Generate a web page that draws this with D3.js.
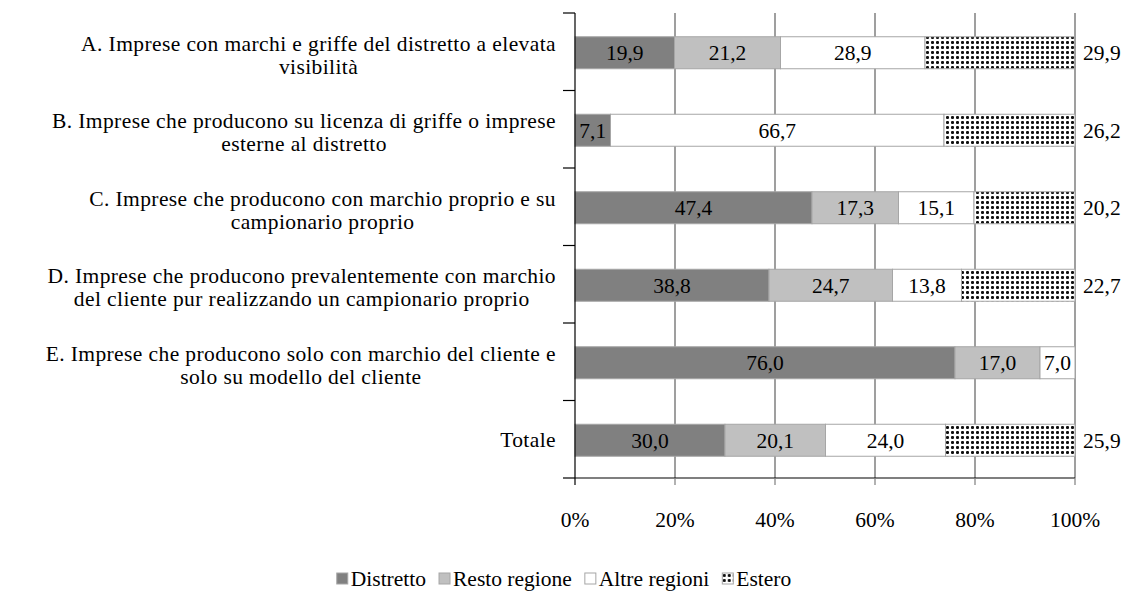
<!DOCTYPE html>
<html>
<head>
<meta charset="utf-8">
<script src="https://cdn.jsdelivr.net/npm/d3@7"></script>
<style>
  body { margin: 0; background: #fff; }
</style>
</head>
<body>
<div id="chart"></div>
<script>
const width = 1131;
const height = 592;

const categories = [
  ["A. Imprese con marchi e griffe del distretto a elevata", "visibilità"],
  ["B. Imprese che producono su licenza di griffe o imprese", "esterne al distretto"],
  ["C. Imprese che producono con marchio proprio e su", "campionario proprio"],
  ["D. Imprese che producono prevalentemente con marchio", "del cliente pur realizzando un campionario proprio"],
  ["E. Imprese che producono solo con marchio del cliente e", "solo su modello del cliente"],
  ["Totale"]
];
const series = ["Distretto", "Resto regione", "Altre regioni", "Estero"];
const distretto = [19.9, 7.1, 47.4, 38.8, 76.0, 30.0];
const restoRegione = [21.2, 0, 17.3, 24.7, 17.0, 20.1];
const altreRegioni = [28.9, 66.7, 15.1, 13.8, 7.0, 24.0];
const estero = [29.9, 26.2, 20.2, 22.7, 0, 25.9];
const xTicks = [0, 20, 40, 60, 80, 100];

const values = [distretto, restoRegione, altreRegioni, estero];
const fills = ["#808080", "#c0c0c0", "#ffffff", "url(#dots)"];
const fontSize = "21.5px";
const serif = '"Liberation Serif", "Times New Roman", Tinos, serif';

const plot = { left: 575, right: 1075, top: 13, bottom: 478 };

const svg = d3.select("#chart").append("svg")
  .attr("width", width)
  .attr("height", height);

// every text gets the serif face directly
const addText = sel => sel.append("text")
  .style("font-family", serif)
  .attr("font-size", fontSize)
  .attr("fill", "#000");

// dotted pattern for Estero
const pat = svg.append("defs").append("pattern")
  .attr("id", "dots")
  .attr("patternUnits", "userSpaceOnUse")
  .attr("width", 5).attr("height", 5);
pat.append("rect").attr("width", 5).attr("height", 5).attr("fill", "#fff");
pat.append("rect").attr("x", 1).attr("y", 1).attr("width", 3).attr("height", 3).attr("fill", "#555");
pat.append("rect").attr("x", 1).attr("y", 2).attr("width", 3).attr("height", 1).attr("fill", "#111");
pat.append("rect").attr("x", 2).attr("y", 1).attr("width", 1).attr("height", 3).attr("fill", "#111");

const x = d3.scaleLinear().domain([0, 100]).range([plot.left, plot.right]);

// gridlines
svg.append("g").selectAll("line")
  .data(xTicks.slice(1))
  .enter().append("line")
  .attr("x1", d => x(d)).attr("x2", d => x(d))
  .attr("y1", plot.top).attr("y2", plot.bottom)
  .attr("stroke", "#7f7f7f").attr("stroke-width", 1.5);

// stacked bars
const stacked = d3.range(categories.length).map(i => {
  let acc = 0;
  return values.map((vals, s) => {
    const seg = { i, s, x0: acc, x1: acc + vals[i], v: vals[i] };
    acc += vals[i];
    return seg;
  });
});

const segs = stacked.flat().filter(d => d.v > 0);
const bandStep = (plot.bottom - plot.top) / categories.length;
const barH = 32;
const barY = i => plot.top + bandStep * i + bandStep / 2 - barH / 2 + 1;

svg.append("g").selectAll("rect")
  .data(segs)
  .enter().append("rect")
  .attr("x", d => x(d.x0))
  .attr("y", d => barY(d.i))
  .attr("width", d => x(d.x1) - x(d.x0))
  .attr("height", barH)
  .attr("fill", d => fills[d.s])
  .attr("stroke", "#a6a6a6")
  .attr("stroke-width", 1);

// value labels
const valG = svg.append("g");
segs.forEach(d => {
  addText(valG)
    .attr("x", d.s === 3 ? x(100) + 8 : (x(d.x0) + x(d.x1)) / 2)
    .attr("y", barY(d.i) + barH / 2)
    .attr("dy", "0.35em")
    .attr("text-anchor", d.s === 3 ? "start" : "middle")
    .text(d.v.toFixed(1).replace(".", ","));
});

// left axis line with ticks
const yAxis = svg.append("g").attr("stroke", "#000");
yAxis.append("line")
  .attr("x1", plot.left).attr("x2", plot.left)
  .attr("y1", plot.top).attr("y2", plot.bottom)
  .attr("stroke-width", 1.2);
yAxis.selectAll("line.tick")
  .data(d3.range(categories.length + 1))
  .enter().append("line")
  .attr("class", "tick")
  .attr("x1", plot.left - 12).attr("x2", plot.left)
  .attr("y1", i => plot.top + bandStep * i).attr("y2", i => plot.top + bandStep * i)
  .attr("stroke-width", 1.2);

// bottom axis
svg.append("line")
  .attr("x1", plot.left).attr("x2", plot.right)
  .attr("y1", plot.bottom).attr("y2", plot.bottom)
  .attr("stroke", "#000").attr("stroke-width", 1.2);
svg.append("g").selectAll("line")
  .data(xTicks)
  .enter().append("line")
  .attr("x1", d => x(d)).attr("x2", d => x(d))
  .attr("y1", plot.bottom).attr("y2", plot.bottom + 7)
  .attr("stroke", d => d === 0 ? "#000" : "#7f7f7f").attr("stroke-width", 1.2);
const tickG = svg.append("g");
xTicks.forEach(d => {
  addText(tickG)
    .attr("x", x(d))
    .attr("y", 519)
    .attr("dy", "0.35em")
    .attr("text-anchor", "middle")
    .text(d + "%");
});

// category labels (centered block, right edge at labelRight)
const labelRight = 556;
categories.forEach((lines, i) => {
  const g = svg.append("g");
  const cy = plot.top + bandStep * i + bandStep / 2 + (lines.length > 1 ? 3 : 0);
  const texts = lines.map((ln, k) => addText(g)
    .attr("y", cy + (k - (lines.length - 1) / 2) * 23)
    .attr("dy", "0.35em")
    .attr("text-anchor", "middle")
    .style("letter-spacing", "0.4px")
    .text(ln));
  const w = d3.max(texts, t => t.node().getComputedTextLength());
  texts.forEach(t => t.attr("x", labelRight - w / 2));
});

// legend
const legend = svg.append("g");
let lx = 0;
series.forEach((s, k) => {
  legend.append("rect")
    .attr("x", lx).attr("y", -5)
    .attr("width", 11).attr("height", 11)
    .attr("fill", fills[k])
    .attr("stroke", "#a6a6a6");
  const t = addText(legend)
    .attr("x", lx + 14).attr("y", 0)
    .attr("dy", "0.35em")
    .text(s);
  lx += 14 + t.node().getComputedTextLength() + 13;
});
legend.attr("transform", `translate(${564 - (lx - 13) / 2},578)`);
</script>
</body>
</html>
